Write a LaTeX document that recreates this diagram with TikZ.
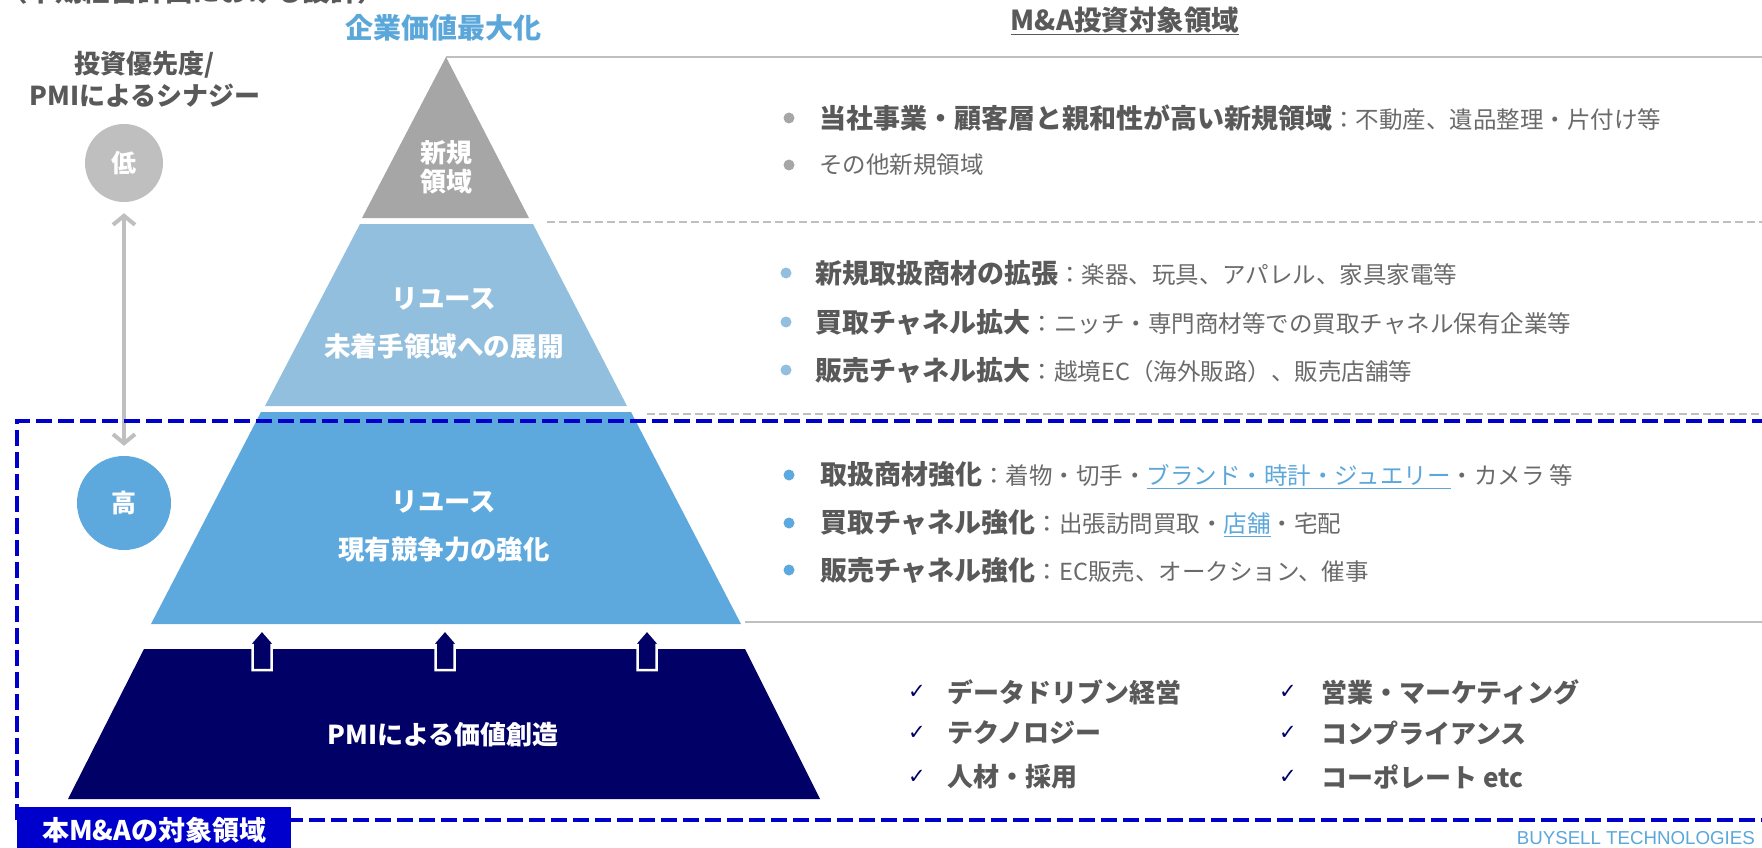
\documentclass[tikz,border=0pt]{standalone}
\usepackage{fontspec}
\setmainfont{Noto Sans CJK JP}
\newfontfamily\dejavu{DejaVu Sans}
\newfontfamily\arialfont{Liberation Sans}
\usetikzlibrary{arrows.meta}
\definecolor{txtgray}{HTML}{595959}
\definecolor{reggray}{HTML}{6A6A6A}
\definecolor{ltitle}{HTML}{5BA7DA}
\definecolor{lowgray}{HTML}{BFBFBF}
\definecolor{topgray}{HTML}{A6A6A6}
\definecolor{pblue}{HTML}{92BFDD}
\definecolor{mblue}{HTML}{5DA8DC}
\definecolor{navy}{HTML}{000066}
\definecolor{boxblue}{HTML}{0000CC}
\definecolor{linegray}{HTML}{BFBFBF}
\newcommand\boldpart[1]{{\fontsize{27}{30}\selectfont\bfseries\color{txtgray}#1}}
\newcommand\linkpart[1]{{\color{ltitle}\underline{#1}}}
\begin{document}
\begin{tikzpicture}[x=1pt,y=-1pt,
  bigtxt/.style={font=\fontsize{26}{30}\selectfont\bfseries, inner sep=0},
  wlabel/.style={text=white, align=center, inner sep=0},
  bul/.style={circle, inner sep=0, minimum size=11pt},
  item/.style={anchor=west, inner sep=0, font=\fontsize{23.5}{28}\selectfont, text=reggray},
  chk/.style={inner sep=0, font=\dejavu\fontsize{21}{24}\selectfont, text=navy},
  item4/.style={anchor=west, inner sep=0, font=\fontsize{26}{30}\selectfont\bfseries, text=txtgray},
  gline/.style={linegray, line width=2pt},
  gdash/.style={linegray, line width=2pt, dash pattern=on 8pt off 4pt},
  uparrow/.style={fill=navy, draw=white, line width=2.5pt, line join=miter}
]
\useasboundingbox (0,0) rectangle (1762,848);
\clip (0,0) rectangle (1762,848);

% clipped heading at the very top
\node[bigtxt, anchor=base west, text=txtgray, font=\fontsize{27.5}{30}\selectfont\bfseries] (head) at (0,2) {（中期経営計画における設計）};

% titles
\node[bigtxt, text=ltitle, font=\fontsize{28}{30}\selectfont\bfseries] (ttl) at (443,28) {企業価値最大化};
\node[bigtxt, text=txtgray, font=\fontsize{27.5}{30}\selectfont\bfseries] (mat) at (1125,21) {\underline{M\&A投資対象領域}};
\node[bigtxt, text=txtgray, align=center, font=\fontsize{26}{32}\selectfont\bfseries] (prio) at (145,79) {投資優先度/\\PMIによるシナジー};

% separator lines on the right
\draw[gline] (446,57) -- (1762,57);
\draw[gdash] (547,222) -- (1762,222);
\draw[gdash] (647,414) -- (1762,414);
\draw[gline] (745,622) -- (1762,622);

% pyramid
\fill[topgray] (446,57) -- (529,218) -- (362,218) -- cycle;
\fill[pblue] (360,224) -- (533,224) -- (627,406) -- (265,406) -- cycle;
\fill[mblue] (261,412) -- (631,412) -- (741,624) -- (151,624) -- cycle;
\fill[navy] (144,649) -- (745,649) -- (820,799) -- (68,799) -- cycle;

\node[bigtxt, wlabel, font=\fontsize{26}{29}\selectfont\bfseries] (new) at (446,167) {新規\\領域};
\node[bigtxt, wlabel, font=\fontsize{26.6}{48}\selectfont\bfseries] (reuse1) at (444,323) {リユース\\未着手領域への展開};
\node[bigtxt, wlabel, font=\fontsize{26.4}{48}\selectfont\bfseries] (reuse2) at (444,526) {リユース\\現有競争力の強化};
\node[bigtxt, wlabel] (pmi) at (443,735) {PMIによる価値創造};

% block arrows
\foreach \x in {262,445,647}
  \filldraw[uparrow] (\x,630) -- (\x+13,645) -- (\x+9.5,645) -- (\x+9.5,670) -- (\x-9.5,670) -- (\x-9.5,645) -- (\x-13,645) -- cycle;

% priority circles and arrow
\node[circle, fill=lowgray, minimum size=78pt, inner sep=0, text=white, font=\fontsize{25}{30}\selectfont\bfseries] (low) at (124,163) {低};
\node[circle, fill=mblue, minimum size=94pt, inner sep=0, text=white, font=\fontsize{25}{30}\selectfont\bfseries] (high) at (124,503) {高};
\draw[lowgray, line width=4pt, {Straight Barb[length=9pt,width=22pt]}-{Straight Barb[length=9pt,width=22pt]}, shorten <=11pt, shorten >=10pt] (low) -- (high);

% dashed target frame
\draw[boxblue, line width=3.5pt, dash pattern=on 16pt off 6pt] (1790,421) -- (17,421) -- (17,820) -- (1790,820);
\node[fill=boxblue, text=white, minimum width=274pt, minimum height=46pt, anchor=north west, inner sep=0, font=\fontsize{27}{30}\selectfont\bfseries] (scopebox) at (17,807) {本M\&Aの対象領域};

% section 1
\node[bul, fill=topgray] (b11) at (789,118) {};
\node[item] (t11) at (819,118) {\boldpart{当社事業・顧客層と親和性が高い新規領域}：不動産、遺品整理・片付け等};
\node[bul, fill=topgray] (b12) at (789,165) {};
\node[item] (t12) at (819,165) {その他新規領域};

% section 2
\node[bul, fill=pblue] (b21) at (786,273) {};
\node[item] (t21) at (815,273) {\boldpart{新規取扱商材の拡張}：楽器、玩具、アパレル、家具家電等};
\node[bul, fill=pblue] (b22) at (786,322) {};
\node[item] (t22) at (815,322) {\boldpart{買取チャネル拡大}：ニッチ・専門商材等での買取チャネル保有企業等};
\node[bul, fill=pblue] (b23) at (786,370) {};
\node[item] (t23) at (815,370) {\boldpart{販売チャネル拡大}：越境EC（海外販路）、販売店舗等};

% section 3
\node[bul, fill=mblue] (b31) at (789,475) {};
\node[item] (t31) at (820,475) {\boldpart{取扱商材強化}：着物・切手・\linkpart{ブランド・時計・ジュエリー}・カメラ 等};
\node[bul, fill=mblue] (b32) at (789,523) {};
\node[item] (t32) at (820,523) {\boldpart{買取チャネル強化}：出張訪問買取・\linkpart{店舗}・宅配};
\node[bul, fill=mblue] (b33) at (789,570) {};
\node[item] (t33) at (820,570) {\boldpart{販売チャネル強化}：EC販売、オークション、催事};

% section 4
\node[chk] (c1) at (917,692) {✓};
\node[item4] (d1) at (947,692) {データドリブン経営};
\node[chk] (c2) at (917,733) {✓};
\node[item4] (d2) at (947,733) {テクノロジー};
\node[chk] (c3) at (917,777) {✓};
\node[item4] (d3) at (947,777) {人材・採用};
\node[chk] (c4) at (1288,692) {✓};
\node[item4] (d4) at (1321,692) {営業・マーケティング};
\node[chk] (c5) at (1288,733) {✓};
\node[item4] (d5) at (1321,733) {コンプライアンス};
\node[chk] (c6) at (1288,777) {✓};
\node[item4] (d6) at (1321,777) {コーポレート etc};

% footer
\node[anchor=east, inner sep=0, text=ltitle, font=\arialfont\fontsize{18.7}{20}\selectfont] (foot) at (1755,838) {BUYSELL TECHNOLOGIES};
\end{tikzpicture}
\end{document}
